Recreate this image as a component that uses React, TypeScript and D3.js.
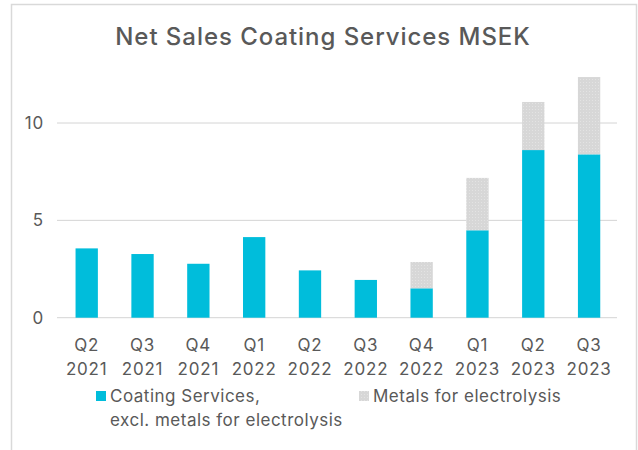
import React from 'react';
import * as d3 from 'd3';

const categories = ['Q2 2021', 'Q3 2021', 'Q4 2021', 'Q1 2022', 'Q2 2022', 'Q3 2022', 'Q4 2022', 'Q1 2023', 'Q2 2023', 'Q3 2023'];
const coatingServices = [3.56, 3.27, 2.77, 4.14, 2.43, 1.94, 1.51, 4.49, 8.61, 8.39];
const metals = [0, 0, 0, 0, 0, 0, 1.35, 2.69, 2.47, 3.97];
const yTicks = [0, 5, 10];

const W = 638;
const H = 450;
const BLUE = '#00BDDB';
const GREY = '#d7d7d7';
const TEXT = '#595959';
const FONT = 'Inter, "Noto Sans", sans-serif';

const App: React.FC = () => {
  const x = d3.scaleBand<string>()
    .domain(categories)
    .range([58.8, 617])
    .paddingInner(0.6)
    .paddingOuter(0.3);

  const y = d3.scaleLinear().domain([0, 10]).range([317.7, 123]);

  return (
    <div style={{ position: 'absolute', left: 0, top: 0 }}>
      <svg width={W} height={H} style={{ display: 'block', background: '#fff' }} fontFamily={FONT}>
        <defs>
          <pattern id="dots" width="3" height="3" patternUnits="userSpaceOnUse">
            <rect width="3" height="3" fill={GREY} />
            <rect x="1" y="1" width="1" height="1" fill="#e3e3e3" />
          </pattern>
        </defs>

        {/* outer frame */}
        <rect x={11.5} y={4.5} width={625} height={460} fill="none" stroke="#d9d9d9" strokeWidth={1.5} />

        <text x={323} y={45} textAnchor="middle" fontSize={24} fontWeight={500} letterSpacing={0.95} fill={TEXT}>
          Net Sales Coating Services MSEK
        </text>

        {/* gridlines */}
        {yTicks.map(t => (
          <g key={t}>
            <line x1={57} x2={617} y1={y(t)} y2={y(t)} stroke="#d4d4d4" strokeWidth={1} />
            <text x={44} y={y(t)} dy="0.36em" textAnchor="end" fontSize={17} letterSpacing={0.8} fill={TEXT}>{t}</text>
          </g>
        ))}

        {/* bars */}
        {categories.map((c, i) => {
          const bx = x(c) as number;
          const bw = x.bandwidth();
          const top1 = y(coatingServices[i]);
          const top2 = y(coatingServices[i] + metals[i]);
          return (
            <g key={c}>
              <rect x={bx} y={top1} width={bw} height={y(0) - top1} fill={BLUE} />
              {metals[i] > 0 && (
                <rect x={bx} y={top2} width={bw} height={top1 - top2} fill="url(#dots)" />
              )}
            </g>
          );
        })}

        {/* x labels */}
        {categories.map(c => {
          const [q, yr] = c.split(' ');
          const cx = (x(c) as number) + x.bandwidth() / 2;
          return (
            <text key={c} x={cx} textAnchor="middle" fontSize={17} letterSpacing={0.8} fill={TEXT}>
              <tspan x={cx} y={351}>{q}</tspan>
              <tspan x={cx} y={374.5}>{yr}</tspan>
            </text>
          );
        })}

        {/* legend */}
        <rect x={96} y={391} width={10} height={10} fill={BLUE} />
        <text fontSize={17} letterSpacing={0.5} fill={TEXT}>
          <tspan x={110} y={402}>Coating Services,</tspan>
          <tspan x={110} y={425.5}>excl. metals for electrolysis</tspan>
        </text>
        <rect x={359} y={391} width={10} height={10} fill="url(#dots)" />
        <text x={373} y={402} fontSize={17} letterSpacing={0.5} fill={TEXT}>Metals for electrolysis</text>
      </svg>
    </div>
  );
};

export default App;
